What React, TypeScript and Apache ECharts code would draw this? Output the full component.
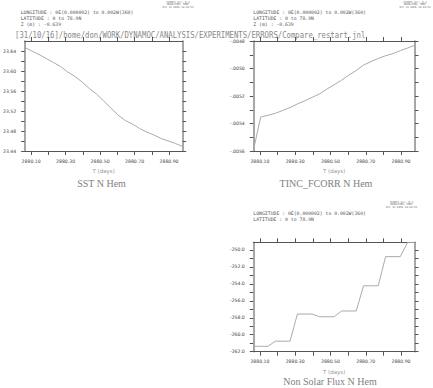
import React, { useEffect, useRef } from 'react';
import * as echarts from 'echarts';

// ---- data ----
const times = [
  2880.0625, 2880.1042, 2880.1458, 2880.1875, 2880.2292, 2880.2708, 2880.3125, 2880.3542,
  2880.3958, 2880.4375, 2880.4792, 2880.5208, 2880.5625, 2880.6042, 2880.6458, 2880.6875,
  2880.7292, 2880.7708, 2880.8125, 2880.8542, 2880.8958, 2880.9375, 2880.9792,
];
const sstValues = [
  23.647, 23.64, 23.633, 23.625, 23.617, 23.609, 23.598, 23.589, 23.578, 23.565, 23.554, 23.54,
  23.526, 23.512, 23.501, 23.494, 23.485, 23.478, 23.472, 23.465, 23.46, 23.455, 23.449,
];
const tincValues = [
  -0.0056, -0.005353, -0.00534, -0.005326, -0.005305, -0.005284, -0.005258, -0.005235, -0.00521,
  -0.005185, -0.00515, -0.005118, -0.005085, -0.005048, -0.005015, -0.004975, -0.00495, -0.004927,
  -0.004907, -0.004892, -0.00487, -0.004851, -0.00483,
];
const nsfValues = [
  -261.36, -261.36, -261.36, -260.76, -260.76, -260.76, -257.56, -257.56, -257.56, -257.88, -257.88,
  -257.88, -257.2, -257.2, -257.2, -254.23, -254.23, -254.23, -250.79, -250.79, -250.79, -249.1, -249.1,
];
const timeTicks = [2880.1, 2880.2, 2880.3, 2880.4, 2880.5, 2880.6, 2880.7, 2880.8, 2880.9];
const timeLabels = [2880.1, 2880.3, 2880.5, 2880.7, 2880.9];
const sstTicks = [23.44, 23.46, 23.48, 23.5, 23.52, 23.54, 23.56, 23.58, 23.6, 23.62, 23.64];
const sstLabels = [23.44, 23.48, 23.52, 23.56, 23.6, 23.64];
const tincTicks = [-0.0056, -0.0055, -0.0054, -0.0053, -0.0052, -0.0051, -0.005, -0.0049, -0.0048];
const tincLabels = [-0.0056, -0.0054, -0.0052, -0.005, -0.0048];
const nsfTicks = [-262, -261, -260, -259, -258, -257, -256, -255, -254, -253, -252, -251, -250];
const nsfLabels = [-262, -260, -258, -256, -254, -252, -250];

const titles = ['SST N Hem', 'TINC_FCORR N Hem', 'Non Solar Flux N Hem'];
const pathTitle = '[31/10/16]/home/don/WORK/DYNAMOC/ANALYSIS/EXPERIMENTS/ERRORS/Compare_restart.jnl';
const headerLines = ['LONGITUDE : 0E(0.000002) to 0.002W(360)', 'LATITUDE : 0 to 78.9N', 'Z (m) : -0.639'];
const stampLines = ['FERRET Ver. 6.1', 'NOAA/PMEL TMAP', 'Oct 31 2016 14:44:53'];

const AXIS = '#555';
const LABEL = '#444';
const SANS = 'DejaVu Sans';
const MONO = 'DejaVu Sans Mono';

function fmtTinc(v: number) {
  const s = v.toFixed(4);
  return s.replace('0.', '.');
}

export default function App() {
  const ref = useRef<HTMLDivElement>(null);
  useEffect(() => {
    if (!ref.current) return;
    const chart = echarts.init(ref.current, null, { renderer: 'svg' });

    const panels = [
      { left: 20.7, top: 41, width: 162, height: 110, ymin: 23.44, ymax: 23.66, yt: sstTicks, yl: sstLabels, fmt: (v: number) => v.toFixed(2), data: sstValues },
      { left: 253.3, top: 41, width: 161.7, height: 110, ymin: -0.0056, ymax: -0.0048, yt: tincTicks, yl: tincLabels, fmt: fmtTinc, data: tincValues },
      { left: 253.3, top: 242.3, width: 161.7, height: 109.4, ymin: -262, ymax: -249.1, yt: nsfTicks, yl: nsfLabels, fmt: (v: number) => v.toFixed(1), data: nsfValues },
    ];

    const grid: any[] = [];
    const xAxis: any[] = [];
    const yAxis: any[] = [];
    const series: any[] = [];
    panels.forEach((p, i) => {
      grid.push({ left: p.left, top: p.top, width: p.width, height: p.height, containLabel: false });
      const hLine = { show: true, onZero: false, lineStyle: { color: AXIS, width: 1 } };
      const vLine = { show: true, onZero: false, lineStyle: { color: '#8a8a8a', width: 1.5 } };
      xAxis.push({
        type: 'value', gridIndex: i, position: 'bottom', min: times[0], max: times[times.length - 1],
        axisLine: hLine,
        axisTick: { show: true, inside: false, length: 4, customValues: timeTicks, lineStyle: { color: AXIS } },
        axisLabel: { show: true, customValues: timeLabels, formatter: (v: number) => v.toFixed(2), fontSize: 4.6, fontFamily: SANS, color: LABEL, margin: 7.5 },
        splitLine: { show: false },
        name: 'T (days)', nameLocation: 'middle', nameGap: 17,
        nameTextStyle: { fontSize: 5.5, fontFamily: SANS, color: '#999' },
      });
      xAxis.push({
        type: 'value', gridIndex: i, position: 'top', min: times[0], max: times[times.length - 1],
        axisLine: hLine,
        axisTick: { show: true, inside: false, length: 4, customValues: timeTicks, lineStyle: { color: AXIS } },
        axisLabel: { show: false },
        splitLine: { show: false },
      });
      yAxis.push({
        type: 'value', gridIndex: i, position: 'left', min: p.ymin, max: p.ymax,
        axisLine: vLine,
        axisTick: { show: true, inside: false, length: 3.5, customValues: p.yt, lineStyle: { color: AXIS } },
        axisLabel: { show: true, customValues: p.yl, formatter: p.fmt, fontSize: 4.6, fontFamily: SANS, color: LABEL, margin: 8.5 },
        splitLine: { show: false },
      });
      yAxis.push({
        type: 'value', gridIndex: i, position: 'right', min: p.ymin, max: p.ymax,
        axisLine: vLine,
        axisTick: { show: true, inside: false, length: 3.5, customValues: p.yt, lineStyle: { color: AXIS } },
        axisLabel: { show: false },
        splitLine: { show: false },
      });
      series.push({
        type: 'line', xAxisIndex: i * 2, yAxisIndex: i * 2, showSymbol: false, symbol: 'none',
        data: times.map((t, k) => [t, p.data[k]]),
        lineStyle: { color: '#aaa', width: 1 }, clip: true,
      });
    });

    const graphic: any[] = [];
    const headerPos = [
      { x: 20.7, ys: [12.5, 18.7, 24.9], n: 3 },
      { x: 253.3, ys: [12.5, 18.7, 24.9], n: 3 },
      { x: 253.3, ys: [213.3, 219.4], n: 2 },
    ];
    headerPos.forEach((h) => {
      for (let j = 0; j < h.n; j++) {
        graphic.push({ type: 'text', x: h.x, y: h.ys[j], style: { text: headerLines[j], fontSize: 4.8, fontFamily: MONO, fill: '#555', align: 'left', verticalAlign: 'middle' } });
      }
    });
    const stampPos = [
      { x: 178, y: 2.2 },
      { x: 415, y: 2.2 },
      { x: 401.5, y: 202.5 },
    ];
    stampPos.forEach((s) => {
      stampLines.forEach((t, j) => {
        graphic.push({ type: 'text', x: s.x, y: s.y + j * 2.5, style: { text: t, fontSize: 2.6, fontFamily: MONO, fill: '#666', align: 'center', verticalAlign: 'middle' } });
      });
    });
    graphic.push({ type: 'text', x: 15, y: 35, scaleX: 0.81, style: { text: pathTitle, fontSize: 9, fontFamily: MONO, fill: '#888', align: 'left', verticalAlign: 'middle' } });
    const titlePos = [
      { x: 101.5, y: 183 },
      { x: 326, y: 183 },
      { x: 330, y: 381 },
    ];
    titlePos.forEach((p, i) => {
      graphic.push({ type: 'text', x: p.x, y: p.y, style: { text: titles[i], fontSize: 10, fontFamily: 'Liberation Serif', fill: '#808080', align: 'center', verticalAlign: 'middle' } });
    });

    chart.setOption({ animation: false, backgroundColor: '#fff', grid, xAxis, yAxis, series, graphic });
    return () => chart.dispose();
  }, []);
  return <div ref={ref} style={{ position: 'fixed', left: 0, top: 0, width: 433, height: 388 }} />;
}
